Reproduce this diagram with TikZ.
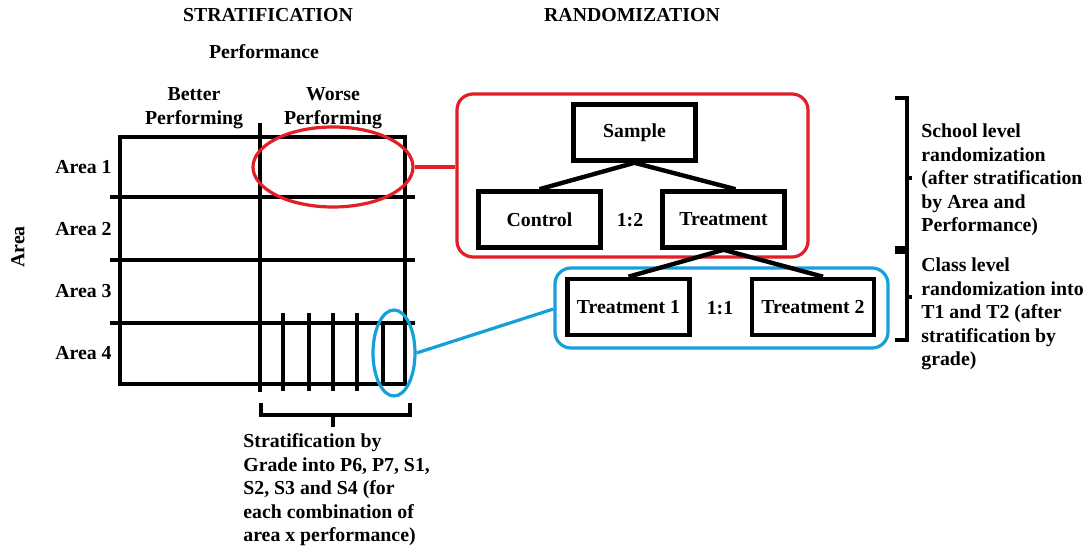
\documentclass[tikz,border=0pt]{standalone}
\usepackage{fontspec}
\setmainfont{Liberation Serif}
\usetikzlibrary{shapes.geometric,calc}
\definecolor{hred}{RGB}{226,30,38}
\definecolor{hblue}{RGB}{22,160,218}
\begin{document}
\begin{tikzpicture}[x=0.5pt,y=-0.5pt,
  every node/.style={font=\fontsize{9.9}{11.75}\selectfont\bfseries},
  box/.style={draw, line width=2.3pt, minimum width=61pt, minimum height=28pt, inner sep=0pt},
  gridline/.style={line width=2pt},
  lab/.style={align=left, anchor=west, inner sep=0pt},
  redline/.style={draw=hred, line width=1.6pt},
  blueline/.style={draw=hblue, line width=1.6pt},
  tree/.style={line width=2.2pt}
]
\useasboundingbox[fill=white] (0,0) rectangle (1089,550);

% titles
\node (strat) at (268,15) {STRATIFICATION};
\node (rand) at (632,15) {RANDOMIZATION};
\node (perf) at (264,52) {Performance};
\node[align=center] (better) at (194,108) {Better\\Performing};
\node[align=center] (worse) at (333,108) {Worse\\Performing};
\node[rotate=90] (area) at (18,247) {Area};
\node[anchor=east, inner sep=0pt] (a1) at (112,167) {Area 1};
\node[anchor=east, inner sep=0pt] (a2) at (112,229) {Area 2};
\node[anchor=east, inner sep=0pt] (a3) at (112,291) {Area 3};
\node[anchor=east, inner sep=0pt] (a4) at (112,353) {Area 4};

% grid
\draw[gridline] (120,137) rectangle (405,384);
\draw[gridline] (110,197) -- (415,197);
\draw[gridline] (110,260) -- (415,260);
\draw[gridline] (110,323) -- (415,323);
\draw[gridline] (260,123) -- (260,392);
\foreach \xx in {283,309,333,357} \draw[gridline] (\xx,313) -- (\xx,391);
\draw[gridline] (383,323) -- (383,384);

% bottom bracket
\draw[gridline] (261,403) -- (261,415) -- (410,415) -- (410,403);
\draw[gridline] (333,415) -- (333,427);
\node[lab] (gradetext) at (243,490) {Stratification by\\Grade into P6, P7, S1,\\S2, S3 and S4 (for\\each combination of\\area x performance)};

% ellipses
\node[ellipse, redline, minimum width=80pt, minimum height=40pt, inner sep=0pt] (redell) at (333,167) {};
\node[ellipse, blueline, minimum width=21pt, minimum height=43pt, inner sep=0pt] (blueell) at (394,353) {};

% randomization boxes
\node[redline, rounded corners=8pt, minimum width=175.5pt, minimum height=81.5pt, inner sep=0pt] (redbox) at (632.5,175.5) {};
\node[blueline, rounded corners=8pt, minimum width=166.5pt, minimum height=40pt, inner sep=0pt] (bluebox) at (721.5,308) {};

\node[box] (sample) at (634.5,132.5) {Sample};
\node[box] (control) at (539.5,219.5) {Control};
\node[box] (treat) at (723.5,219.5) {Treatment};
\node (r12) at (630,220) {1:2};
\node[box] (t1) at (628.5,307) {Treatment 1};
\node[box] (t2) at (813,307) {Treatment 2};
\node (r11) at (720,308) {1:1};

\draw[tree] (sample.south) -- (control.north);
\draw[tree] (sample.south) -- ([xshift=6pt]treat.north);
\draw[tree] (treat.south) -- (t1.north);
\draw[tree] (treat.south) -- ([xshift=5pt]t2.north);

% connectors
\draw[redline] (redell.east) -- (redell.east -| redbox.west);
\draw[blueline] (blueell.east) -- ([yshift=-0.5pt]bluebox.west);

% right brackets
\draw[gridline] (895,98) -- (907,98) -- (907,248) -- (895,248);
\draw[gridline] (907,178) -- (912,178);
\draw[gridline] (895,252) -- (907,252) -- (907,340) -- (895,340);
\draw[gridline] (907,297) -- (912,297);

\node[lab] (school) at (921,180) {School level\\randomization\\(after stratification\\by Area and\\Performance)};
\node[lab] (class) at (921,314) {Class level\\randomization into\\T1 and T2 (after\\stratification by\\grade)};
\end{tikzpicture}
\end{document}
